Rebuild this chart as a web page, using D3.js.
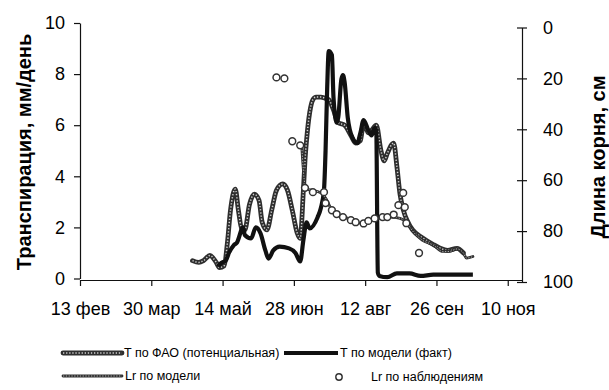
<!DOCTYPE html>
<html>
<head>
<meta charset="utf-8">
<script src="https://cdn.jsdelivr.net/npm/d3@7/dist/d3.min.js"></script>
<style>
  body { margin: 0; background: #fff; }
  svg text { font-family: Arial, "Liberation Sans", sans-serif; fill: #000; }
</style>
</head>
<body>
<div class="chart-container"></div>
<script>
// x axis ticks (every 45 days)
const tickDates = ['02-13', '03-30', '05-14', '06-28', '08-12', '09-26', '11-10'];
const tickLabels = ['13 фев', '30 мар', '14 май', '28 июн', '12 авг', '26 сен', '10 ноя'];
const leftTicks = [0, 2, 4, 6, 8, 10];
const rightTicks = [0, 20, 40, 60, 80, 100];

// T по ФАО (потенциальная), мм/день
const faoDates = ['04-25', '04-29', '05-02', '05-06', '05-10', '05-12', '05-15', '05-17', '05-19', '05-22',
  '05-24', '05-26', '05-28', '05-31', '06-03', '06-06', '06-08', '06-11', '06-14', '06-17',
  '06-21', '06-24', '06-27', '06-30', '07-02', '07-04', '07-05', '07-06', '07-08', '07-10',
  '07-12', '07-15', '07-18', '07-20', '07-23', '07-26', '07-30', '08-03', '08-06', '08-09',
  '08-11', '08-14', '08-16', '08-19', '08-22', '08-24', '08-26', '08-30', '09-01', '09-03',
  '09-05', '09-08', '09-11', '09-17', '09-24', '09-28', '10-03', '10-09', '10-13'];
const faoValues = [0.7, 0.63, 0.7, 0.9, 0.63, 0.43, 0.5, 1.37, 2.67, 3.5,
  2.67, 1.96, 1.9, 2.9, 3.3, 3.06, 2.2, 1.9, 2.67, 3.45,
  3.7, 3.45, 2.67, 1.8, 1.57, 3.45, 4.6, 5.4, 6.5, 7.0,
  7.1, 7.1, 7.05, 7.0, 6.6, 6.1, 6.0, 5.6, 5.3, 5.4,
  6.1, 5.7, 5.8, 6.0, 5.0, 4.6, 4.9, 5.3, 4.4, 3.3,
  2.7, 2.2, 1.9, 1.6, 1.33, 1.2, 1.1, 1.18, 1.0];

// T по модели (факт), мм/день
const modelDates = ['05-11', '05-13', '05-16', '05-18', '05-21', '05-23', '05-27', '05-28', '06-01', '06-04',
  '06-07', '06-10', '06-12', '06-15', '06-19', '06-25', '06-29', '07-02', '07-04', '07-06',
  '07-08', '07-13', '07-15', '07-17', '07-18', '07-19', '07-20', '07-22', '07-23', '07-25',
  '07-26', '07-28', '07-29', '07-30', '08-01', '08-04', '08-07', '08-09', '08-11', '08-14',
  '08-16', '08-18', '08-19', '08-20', '08-21', '08-26', '09-01', '09-09', '09-16', '09-24',
  '10-19'];
const modelValues = [0.47, 0.6, 0.7, 1.0, 1.3, 1.4, 2.0, 1.7, 1.57, 2.0,
  1.76, 1.1, 0.78, 1.1, 1.25, 1.18, 1.0, 0.67, 1.5, 2.2,
  1.96, 2.4, 2.75, 3.45, 5.0, 7.4, 8.9, 8.75, 7.1, 6.1,
  6.3, 7.8, 7.96, 7.7, 6.3, 5.5, 5.3, 5.7, 6.2, 5.8,
  5.6, 5.9, 5.8, 0.23, 0.1, 0.05, 0.2, 0.2, 0.1, 0.15,
  0.15];

// Lr по модели, см
const lrDates = ['07-03', '07-05', '07-06', '07-10', '07-15', '07-18', '07-21', '07-25', '07-30', '08-04',
  '08-10', '08-15', '08-21', '08-28', '09-03', '09-07', '09-11', '09-17', '09-24', '09-30',
  '10-04', '10-09', '10-13', '10-15', '10-19'];
const lrValues = [47, 62, 63.5, 64, 65, 67, 70.6, 73, 74.5, 75.7,
  77, 76, 75, 74.5, 75, 76.5, 80, 83.5, 85.5, 88,
  88, 87, 88.6, 90.6, 90];

// Lr по наблюдениям, см
const obsDates = ['06-17', '06-22', '06-27', '07-02', '07-05', '07-10', '07-17', '07-18', '07-22', '07-25',
  '07-29', '08-03', '08-06', '08-11', '08-14', '08-18', '08-23', '08-26', '08-30', '09-02',
  '09-05', '09-06', '09-07', '09-15'];
const obsValues = [19.6, 20, 44.7, 46.3, 63, 64.7, 64.7, 69, 71.8, 73.3,
  74.5, 75.7, 76.5, 77, 76, 75, 74.5, 74.5, 73.5, 69.8,
  65, 70.6, 76.9, 88.6];

const width = 609;
const height = 390;
const parse = d3.timeParse('%m-%d');

const svg = d3.select('.chart-container')
  .append('svg')
  .attr('width', width)
  .attr('height', height);

const x = d3.scaleTime()
  .domain([parse('02-13'), parse('11-19')])
  .range([80, 522]);

const yLeft = d3.scaleLinear()
  .domain([0, 10])
  .range([278.5, 23]);

const yRight = d3.scaleLinear()
  .domain([0, 100])
  .range([27.5, 282]);

// x axis
const xAxis = svg.append('g')
  .attr('transform', 'translate(0,280)')
  .call(d3.axisBottom(x)
    .tickValues(tickDates.map(parse))
    .tickFormat((d, i) => tickLabels[i])
    .tickSize(6)
    .tickPadding(16)
    .tickSizeOuter(0));

// left axis
const leftAxis = svg.append('g')
  .attr('transform', 'translate(80,0)')
  .call(d3.axisLeft(yLeft)
    .tickValues(leftTicks)
    .tickSize(6)
    .tickPadding(9)
    .tickSizeOuter(0));

// right axis, ticks cross the line
const rightAxis = svg.append('g')
  .attr('transform', 'translate(522,0)')
  .call(d3.axisRight(yRight)
    .tickValues(rightTicks)
    .tickSize(5)
    .tickPadding(16)
    .tickSizeOuter(0));
rightAxis.selectAll('.tick line').attr('x1', -5);

[xAxis, leftAxis, rightAxis].forEach(g => {
  g.attr('font-family', null).attr('font-size', null);
  g.selectAll('path, line').attr('stroke', '#111').attr('stroke-width', 1.2);
  g.selectAll('text').style('font-size', '18px');
});

// axis titles
svg.append('text')
  .attr('transform', 'translate(24,152) rotate(-90)')
  .attr('text-anchor', 'middle')
  .attr('dominant-baseline', 'central')
  .style('font-size', '20px')
  .style('font-weight', 'bold')
  .text('Транспирация, мм/день');

svg.append('text')
  .attr('transform', 'translate(598,157) rotate(-90)')
  .attr('text-anchor', 'middle')
  .attr('dominant-baseline', 'central')
  .style('font-size', '20px')
  .style('font-weight', 'bold')
  .text('Длина корня, см');

const toPoints = (dates, values) => dates.map((d, i) => ({ date: parse(d), value: values[i] }));

const lineLeft = d3.line()
  .x(d => x(d.date))
  .y(d => yLeft(d.value))
  .curve(d3.curveMonotoneX);

const lineRight = d3.line()
  .x(d => x(d.date))
  .y(d => yRight(d.value))
  .curve(d3.curveMonotoneX);

// textured stroke: dark body with light dotted core
function beaded(g, d, w, core, dash) {
  g.append('path')
    .attr('d', d)
    .attr('fill', 'none')
    .attr('stroke', '#2e2e2e')
    .attr('stroke-width', w)
    .attr('stroke-linejoin', 'round')
    .attr('stroke-linecap', 'round');
  g.append('path')
    .attr('d', d)
    .attr('fill', 'none')
    .attr('stroke', '#d0d0d0')
    .attr('stroke-width', core)
    .attr('stroke-dasharray', dash);
}

const plot = svg.append('g');

beaded(plot, lineLeft(toPoints(faoDates, faoValues)), 4.8, 1.5, '1.3,1.8');

plot.append('path')
  .attr('d', lineLeft(toPoints(modelDates, modelValues)))
  .attr('fill', 'none')
  .attr('stroke', '#111')
  .attr('stroke-width', 4.2)
  .attr('stroke-linejoin', 'round');

beaded(plot, lineRight(toPoints(lrDates, lrValues)), 2.8, 0.8, '1.3,1.5');

plot.selectAll('circle.obs')
  .data(toPoints(obsDates, obsValues))
  .enter()
  .append('circle')
  .attr('class', 'obs')
  .attr('cx', d => x(d.date))
  .attr('cy', d => yRight(d.value))
  .attr('r', 3.4)
  .attr('fill', '#fff')
  .attr('stroke', '#333')
  .attr('stroke-width', 1.5);

// legend
const legend = svg.append('g').style('font-size', '12.5px');

beaded(legend, 'M63,353 L122,353', 4.8, 1.5, '1.3,1.8');
legend.append('text').attr('x', 124).attr('y', 357).text('T по ФАО (потенциальная)');

legend.append('line')
  .attr('x1', 284).attr('x2', 338).attr('y1', 353).attr('y2', 353)
  .attr('stroke', '#111').attr('stroke-width', 4);
legend.append('text').attr('x', 340).attr('y', 357).text('T по модели (факт)');

beaded(legend, 'M63,376 L122,376', 2.8, 0.8, '1.3,1.5');
legend.append('text').attr('x', 125).attr('y', 380).text('Lr по модели');

legend.append('circle')
  .attr('cx', 339).attr('cy', 377).attr('r', 3.2)
  .attr('fill', '#fff').attr('stroke', '#333').attr('stroke-width', 1.4);
legend.append('text').attr('x', 371).attr('y', 381).text('Lr по наблюдениям');
</script>
</body>
</html>
